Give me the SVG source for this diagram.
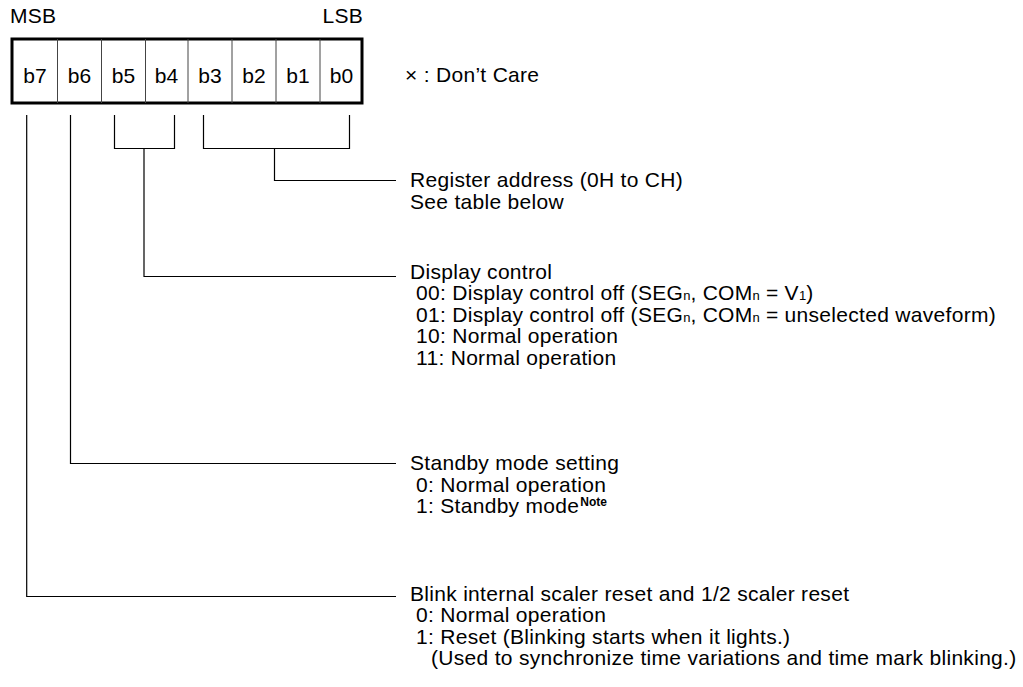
<svg xmlns="http://www.w3.org/2000/svg" width="1023" height="687" viewBox="0 0 1023 687">
<style>
text{font-family:"Liberation Sans",Arial,sans-serif;font-size:21px;letter-spacing:0.3px;fill:#000}
.c{text-anchor:middle;letter-spacing:0}
.sub{font-size:13px;letter-spacing:0}
.ln{fill:none;stroke:#000;stroke-width:1.2}
.div{stroke:#444;stroke-width:1}
</style>
<rect width="1023" height="687" fill="#fff"/>
<g id="register">
<text x="10" y="23" letter-spacing="0">MSB</text>
<text x="363" y="23" text-anchor="end" letter-spacing="0">LSB</text>
<rect x="12" y="39" width="350" height="64" fill="#fff" stroke="#000" stroke-width="3"/>
<line class="div" x1="57.5" y1="39" x2="57.5" y2="103"/>
<line class="div" x1="101.5" y1="39" x2="101.5" y2="103"/>
<line class="div" x1="145.5" y1="39" x2="145.5" y2="103"/>
<line class="div" x1="188" y1="39" x2="188" y2="103"/>
<line class="div" x1="232" y1="39" x2="232" y2="103"/>
<line class="div" x1="276" y1="39" x2="276" y2="103"/>
<line class="div" x1="320" y1="39" x2="320" y2="103"/>
<text class="c" x="35" y="83">b7</text>
<text class="c" x="79.5" y="83">b6</text>
<text class="c" x="123.5" y="83">b5</text>
<text class="c" x="166.5" y="83">b4</text>
<text class="c" x="210" y="83">b3</text>
<text class="c" x="254" y="83">b2</text>
<text class="c" x="298" y="83">b1</text>
<text class="c" x="341.5" y="83">b0</text>
</g>
<g id="legend">
<text x="405" y="82">× : Don’t Care</text>
</g>
<g id="connectors">
<path class="ln" d="M26.7,115 V596.5 H396"/>
<path class="ln" d="M70.5,115 V463.5 H396"/>
<path class="ln" d="M114.5,115 V148.5 H174.5 V115"/>
<path class="ln" d="M144,148.5 V276.5 H396"/>
<path class="ln" d="M203.5,115 V148.5 H349.5 V115"/>
<path class="ln" d="M274.5,148.5 V180.5 H396"/>
</g>
<g id="reg-address">
<text x="410" y="187">Register address (0H to CH)</text>
<text x="410" y="209">See table below</text>
</g>
<g id="display-control">
<text x="410" y="279">Display control</text>
<text x="416" y="300">00: Display control off (SEG<tspan class="sub">n</tspan>, COM<tspan class="sub">n</tspan> = V<tspan class="sub">1</tspan>)</text>
<text x="416" y="322">01: Display control off (SEG<tspan class="sub">n</tspan>, COM<tspan class="sub">n</tspan> = unselected waveform)</text>
<text x="416" y="343">10: Normal operation</text>
<text x="416" y="365">11: Normal operation</text>
</g>
<g id="standby">
<text x="410" y="470">Standby mode setting</text>
<text x="416" y="492">0: Normal operation</text>
<text x="416" y="513">1: Standby mode<tspan font-size="12" font-weight="bold" letter-spacing="0" dx="1" dy="-7">Note</tspan></text>
</g>
<g id="blink">
<text x="410" y="601">Blink internal scaler reset and 1/2 scaler reset</text>
<text x="416" y="622">0: Normal operation</text>
<text x="416" y="644">1: Reset (Blinking starts when it lights.)</text>
<text x="431" y="665">(Used to synchronize time variations and time mark blinking.)</text>
</g>
</svg>
